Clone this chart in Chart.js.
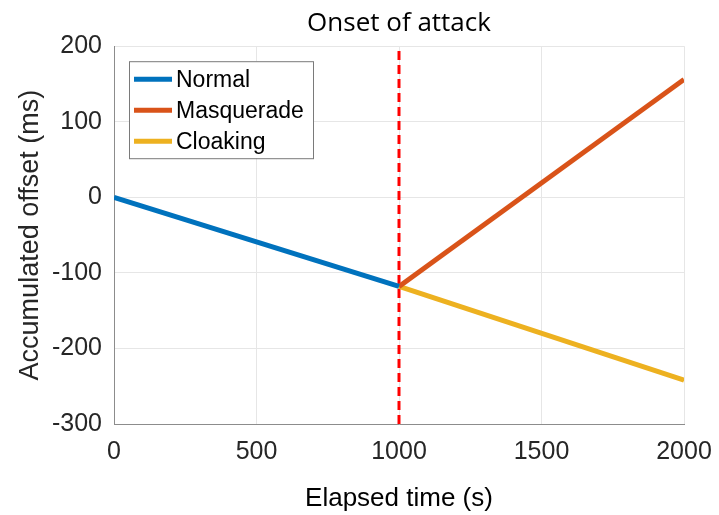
<!DOCTYPE html>
<html>
<head>
<meta charset="utf-8">
<script src="https://cdn.jsdelivr.net/npm/chart.js@4/dist/chart.umd.min.js"></script>
<style>
  html, body { margin: 0; padding: 0; background: #fff; }
  #wrap { width: 719px; height: 515px; }
</style>
</head>
<body>
<div id="wrap"><canvas id="c" width="719" height="515"></canvas></div>
<script>
// values
let normalX = [0, 1000]
let normalY = [0, -118]
let masqX = [1000, 2000]
let masqY = [-118, 156]
let cloakX = [1000, 2000]
let cloakY = [-118, -242]
let onsetX = [1000, 1000]
let onsetY = [-300, 200]

let xTicks = [0, 500, 1000, 1500, 2000]
let yTicks = [-300, -200, -100, 0, 100, 200]

function pts(xs, ys) {
    return xs.map((x, i) => ({ x: x, y: ys[i] }))
}

// legend box drawn inside the plot, like the matlab one
let boxLegend = {
    id: "boxLegend",
    afterDatasetsDraw(chart) {
        let ctx = chart.ctx
        let a = chart.chartArea
        let x0 = a.left + 15, y0 = a.top + 15
        let w = 184, h = 97
        ctx.save()
        ctx.fillStyle = "#fff"
        ctx.fillRect(x0, y0, w, h)
        ctx.strokeStyle = "#7a7a7a"
        ctx.lineWidth = 1
        ctx.strokeRect(x0 + 0.5, y0 + 0.5, w, h)
        ctx.font = "23px 'Liberation Sans', Arial, sans-serif"
        ctx.textBaseline = "middle"
        let items = chart.data.datasets.filter(d => !d.noLegend)
        items.forEach((d, i) => {
            let y = y0 + 18 + i * 31
            ctx.strokeStyle = d.borderColor
            ctx.lineWidth = 5
            ctx.beginPath()
            ctx.moveTo(x0 + 5, y)
            ctx.lineTo(x0 + 43, y)
            ctx.stroke()
            ctx.fillStyle = "#000"
            ctx.fillText(d.label, x0 + 47, y + 1)
        })
        ctx.restore()
    }
}

new Chart(document.getElementById("c"), {
    type: "line",
    data: {
        datasets: [
            { label: "Normal", data: pts(normalX, normalY), borderColor: "#0072BD", borderWidth: 5, order: 1 },
            { label: "Masquerade", data: pts(masqX, masqY), borderColor: "#D95319", borderWidth: 5, order: 1 },
            { label: "Cloaking", data: pts(cloakX, cloakY), borderColor: "#EDB120", borderWidth: 5, order: 1 },
            { label: "Onset", data: pts(onsetX, onsetY), borderColor: "#ff0000", borderWidth: 3, borderDash: [9, 5], order: 5, noLegend: true }
        ]
    },
    options: {
        responsive: false,
        animation: false,
        layout: { padding: { top: 0, right: 35, bottom: 0, left: 0 } },
        elements: { point: { radius: 0 }, line: { tension: 0, borderCapStyle: "butt" } },
        plugins: {
            legend: { display: false },
            tooltip: { enabled: false },
            title: {
                display: true,
                text: "Onset of attack",
                fullSize: false,
                color: "#000",
                font: { family: "'Open Sans', sans-serif", size: 26, weight: "normal" },
                padding: { top: 8, bottom: 7 }
            }
        },
        scales: {
            x: {
                type: "linear",
                min: 0, max: 2000,
                afterBuildTicks: s => { s.ticks = xTicks.map(v => ({ value: v })) },
                afterFit: s => { s.height = 91; s.paddingLeft = 0; s.paddingRight = 0 },
                grid: { color: "#e6e6e6", drawTicks: false },
                border: { color: "#8c8c8c", width: 1 },
                ticks: {
                    color: "#262626", padding: 13,
                    font: { family: "'Liberation Sans', Arial", size: 25 },
                    callback: v => String(v)
                },
                title: {
                    display: true, text: "Elapsed time (s)", color: "#000",
                    font: { family: "'Liberation Sans', Arial", size: 26 },
                    padding: { top: 0, bottom: 1 }
                }
            },
            y: {
                min: -300, max: 200,
                afterBuildTicks: s => { s.ticks = yTicks.map(v => ({ value: v })) },
                afterFit: s => { s.width = 114; s.paddingTop = 0; s.paddingBottom = 0 },
                grid: { color: "#e6e6e6", drawTicks: false },
                border: { color: "#8c8c8c", width: 1 },
                ticks: {
                    color: "#262626", padding: 12,
                    font: { family: "'Liberation Sans', Arial", size: 25 },
                    callback: v => String(v)
                },
                title: {
                    display: true, text: "Accumulated offset (ms)", color: "#262626",
                    font: { family: "'Liberation Sans', Arial", size: 27 },
                    padding: { top: 14, bottom: 0 }
                }
            }
        }
    },
    plugins: [boxLegend]
})
</script>
</body>
</html>
